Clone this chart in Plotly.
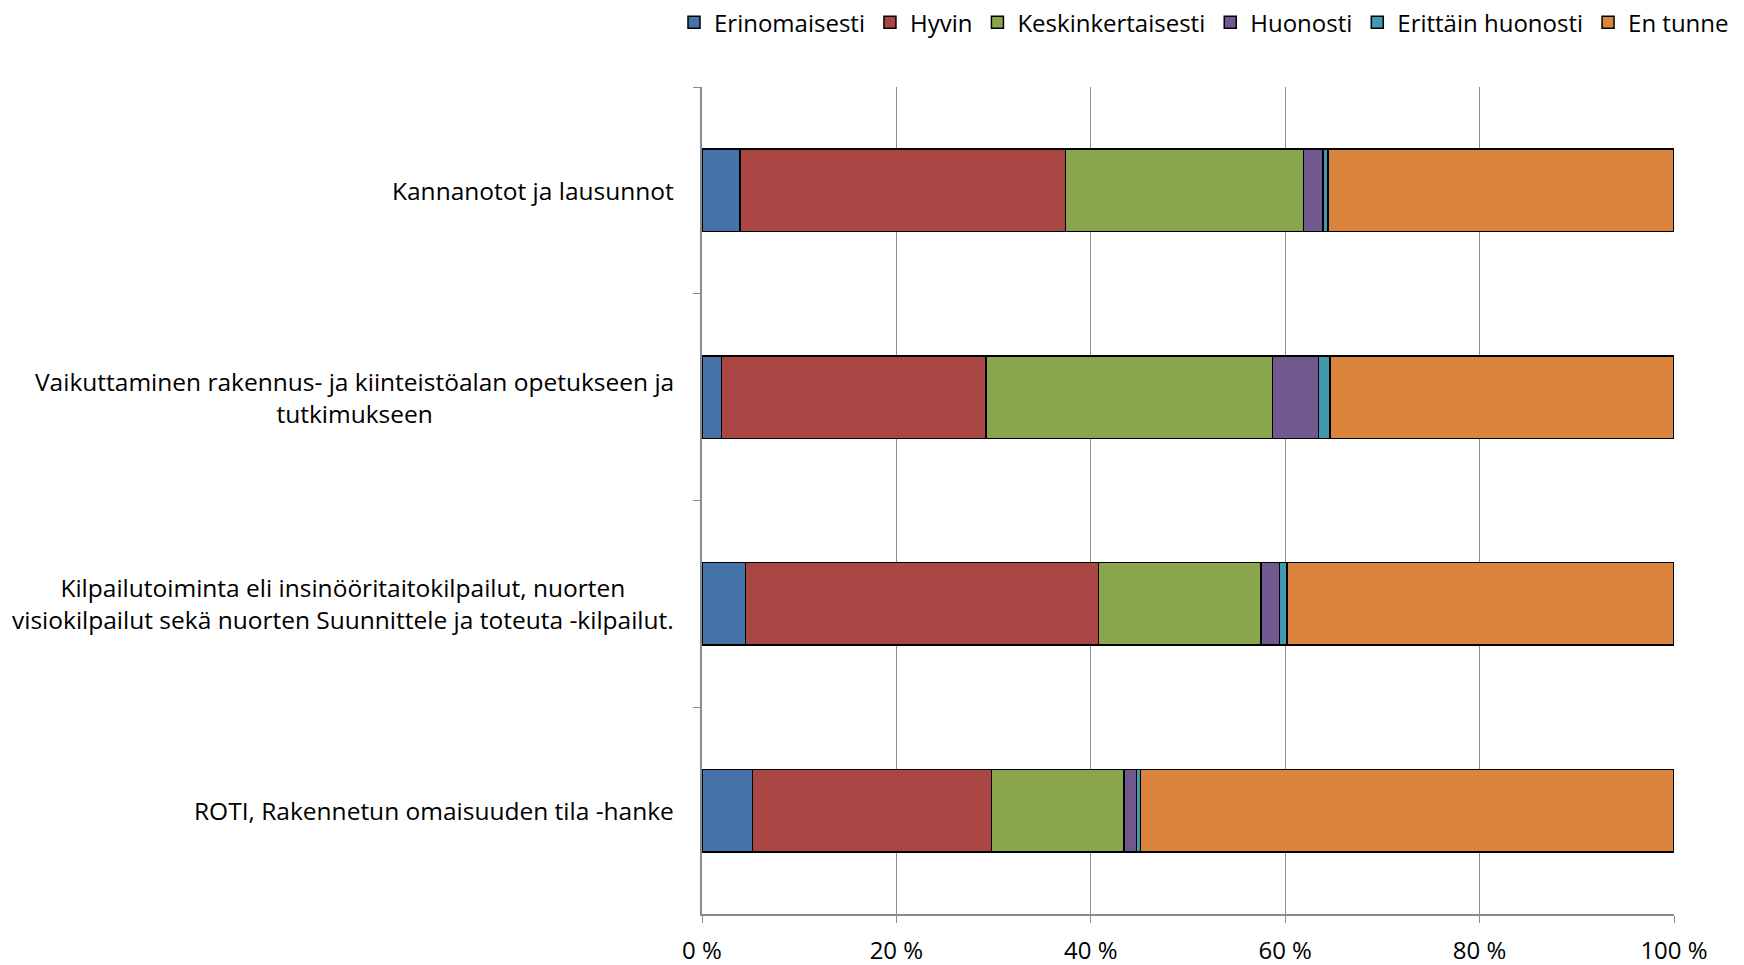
import plotly.graph_objects as go

categories = [
    "Kannanotot ja lausunnot",
    "Vaikuttaminen rakennus- ja kiinteistöalan opetukseen ja<br>tutkimukseen",
    "Kilpailutoiminta eli insinööritaitokilpailut, nuorten<br>visiokilpailut sekä nuorten Suunnittele ja toteuta -kilpailut.",
    "ROTI, Rakennetun omaisuuden tila -hanke",
]
series_names = ["Erinomaisesti", "Hyvin", "Keskinkertaisesti", "Huonosti", "Erittäin huonosti", "En tunne"]
erinomaisesti = [3.9, 2.0, 4.5, 5.2]
hyvin = [33.5, 27.2, 36.3, 24.6]
keskinkertaisesti = [24.5, 29.5, 16.7, 13.6]
huonosti = [2.0, 4.7, 1.9, 1.3]
erittain_huonosti = [0.5, 1.2, 0.8, 0.4]
en_tunne = [35.6, 35.4, 39.8, 54.9]
values = [erinomaisesti, hyvin, keskinkertaisesti, huonosti, erittain_huonosti, en_tunne]
colors = ["#4572A7", "#AA4643", "#89A54E", "#71588F", "#4198AF", "#DB843D"]
tick_vals = [0, 20, 40, 60, 80, 100]
tick_text = ["0 %", "20 %", "40 %", "60 %", "80 %", "100 %"]

FONT = "Open Sans"
FS = 24

fig = go.Figure()
for name, vals, col in zip(series_names, values, colors):
    fig.add_trace(go.Bar(
        y=categories, x=vals, name=name, orientation="h",
        marker=dict(color=col, line=dict(color="#000000", width=1.5)),
    ))

for cat in categories:
    fig.add_annotation(
        x=-0.027, xref="paper", y=cat, yref="y", text=cat, showarrow=False,
        xanchor="right", yanchor="middle", align="center",
        font=dict(family=FONT, size=24.5, color="#000000"),
    )

fig.update_layout(
    barmode="stack", bargap=0.6,
    width=1744, height=965,
    margin=dict(l=702, r=70, t=87, b=51, autoexpand=False),
    plot_bgcolor="white", paper_bgcolor="white",
    font=dict(family=FONT, size=FS, color="#000000"),
    showlegend=True,
    legend=dict(
        orientation="h", x=-0.0288, xanchor="left", y=1.105, yanchor="top",
        font=dict(family=FONT, size=24), itemwidth=30, tracegroupgap=0,
        traceorder="normal",
    ),
    xaxis=dict(
        range=[0, 100], tickvals=tick_vals, ticktext=tick_text,
        showgrid=True, gridcolor="#8C8C8C", gridwidth=1,
        showline=True, linecolor="#8C8C8C", linewidth=1.5,
        ticks="outside", ticklen=7, tickcolor="#8C8C8C",
        ticklabelstandoff=7, zeroline=False,
        tickfont=dict(family=FONT, size=FS),
    ),
    yaxis=dict(
        categoryorder="array", categoryarray=categories, autorange="reversed",
        showticklabels=False, showline=True, linecolor="#8C8C8C", linewidth=1.5,
        ticks="outside", ticklen=7, tickcolor="#8C8C8C", tickson="boundaries",
        showgrid=False,
    ),
)

fig.write_html("out.html", config={"displayModeBar": False},
               post_script="document.body.style.margin='0';")
